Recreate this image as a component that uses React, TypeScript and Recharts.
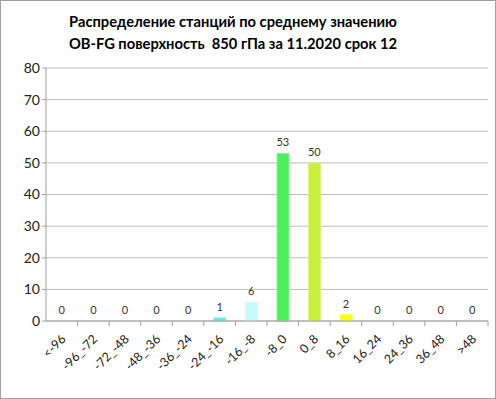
import React from 'react';
import { ComposedChart, Bar, Line, XAxis, YAxis, CartesianGrid, Cell, LabelList } from 'recharts';

const categories = ['<-96', '-96_-72', '-72_-48', '-48_-36', '-36_-24', '-24_-16', '-16_-8', '-8_0', '0_8', '8_16', '16_24', '24_36', '36_48', '>48'];
const counts = [0, 0, 0, 0, 0, 1, 6, 53, 50, 2, 0, 0, 0, 0];
const barColors = ['#5ee8f0', '#5ee8f0', '#5ee8f0', '#5ee8f0', '#5ee8f0', '#5ee8f0', '#c8fafa', '#4cf05a', '#c8f03c', '#ffff00', '#ffff00', '#ffff00', '#ffff00', '#ffff00'];
const barStrokes = ['#8ef0f4', '#8ef0f4', '#8ef0f4', '#8ef0f4', '#8ef0f4', '#8ef0f4', '#dcfcfc', '#8af490', '#daf47a', '#ffff60', '#ffff60', '#ffff60', '#ffff60', '#ffff60'];
const yTicks = [0, 10, 20, 30, 40, 50, 60, 70, 80];
const titleLines = ['Распределение станций по среднему значению', 'OB-FG поверхность  850 гПа за 11.2020 срок 12'];

const data = categories.map((c, i) => ({ name: c, value: counts[i] }));

const FONT = 'Lato, "DejaVu Sans", sans-serif';

const XTick = (props: any) => {
  const { x, y, payload } = props;
  return (
    <g transform={`translate(${x + 2},${y + 8})`}>
      <text x={0} y={0} dy={4} textAnchor="end" transform="rotate(-45)" fontSize={12.5} fill="#222" fontFamily={FONT}>
        {payload.value}
      </text>
    </g>
  );
};

export default function App() {
  return (
    <div style={{ position: 'absolute', left: 0, top: 0, width: 496, height: 399, background: '#fff' }}>
      <div style={{ position: 'absolute', left: 0, top: 0, width: 494, height: 397, border: '1px solid #a0a0a0', boxSizing: 'content-box' }} />
      <svg style={{ position: 'absolute', left: 0, top: 0 }} width={496} height={60}>
        {titleLines.map((t, i) => (
          <text key={i} x={233} y={27 + i * 22} textAnchor="middle" fontFamily={FONT} fontWeight={700} fontSize={14.7} fill="#000" style={{ whiteSpace: 'pre' }}>
            {t}
          </text>
        ))}
      </svg>
      <div style={{ position: 'absolute', left: 0, top: 0 }}>
        <ComposedChart width={496} height={399} data={data} margin={{ top: 68, right: 8, bottom: 0, left: 0 }} barCategoryGap={0}>
          <CartesianGrid vertical={false} stroke="#bebebe" strokeWidth={1} />
          <XAxis
            dataKey="name"
            interval={0}
            height={78}
            tick={<XTick />}
            axisLine={{ stroke: '#a0a0a0' }}
            tickLine={false}
          />
          <YAxis
            domain={[0, 80]}
            ticks={yTicks}
            width={46}
            axisLine={{ stroke: '#a0a0a0' }}
            tickLine={{ stroke: '#a0a0a0' }}
            tickSize={4}
            tick={{ fontSize: 14, fill: '#222', fontFamily: FONT }}
          />
          <Bar dataKey="value" barSize={12} isAnimationActive={false}>
            {data.map((d, i) => (
              <Cell key={i} fill={barColors[i]} stroke={barStrokes[i]} strokeWidth={1} />
            ))}
          </Bar>
          <Line dataKey="value" stroke="none" dot={false} activeDot={false} isAnimationActive={false}>
            <LabelList dataKey="value" position="top" offset={7} fontSize={11} fill="#333" fontFamily={FONT} />
          </Line>
        </ComposedChart>
      </div>
      <svg style={{ position: 'absolute', left: 0, top: 0, pointerEvents: 'none' }} width={496} height={399}>
        {categories.map((c, i) => {
          if (i === 0) return null;
          const x = 46 + (i * 442) / 14;
          return <line key={c} x1={x} x2={x} y1={321} y2={326} stroke="#a0a0a0" />;
        })}
        <line x1={488} x2={488} y1={321} y2={326} stroke="#a0a0a0" />
      </svg>
    </div>
  );
}
